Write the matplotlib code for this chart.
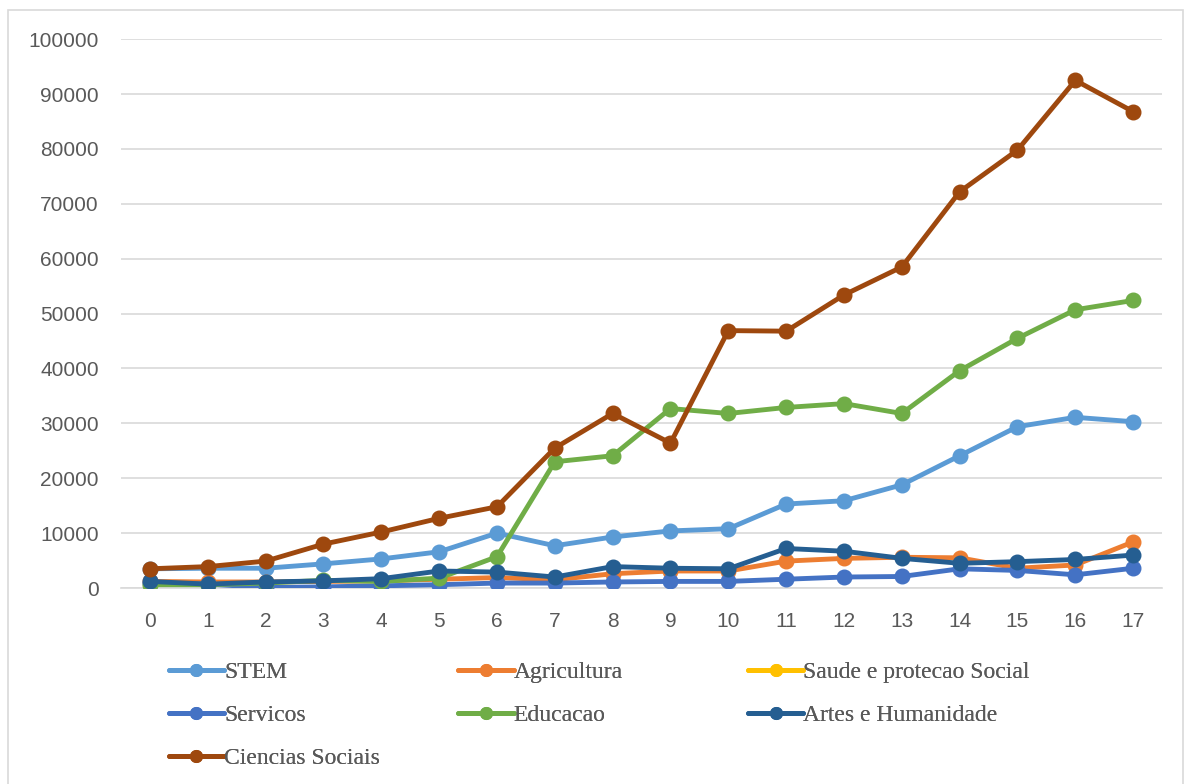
import numpy as np
import matplotlib.pyplot as plt
from matplotlib.patches import Rectangle

years = list(range(18))

stem = [3500, 3600, 3600, 4400, 5300, 6600, 10000, 7700, 9300, 10400,
        10800, 15300, 15900, 18800, 24100, 29400, 31100, 30300]
agricultura = [1200, 1100, 1100, 1200, 1300, 1600, 1900, 1500, 2600, 3100,
               3100, 4900, 5400, 5600, 5500, 3600, 4200, 8400]
saude = [np.nan] * 18
servicos = [900, 700, 100, 200, 400, 600, 900, 900, 1100, 1200,
            1200, 1600, 2000, 2100, 3500, 3200, 2400, 3600]
educacao = [600, 600, 900, 1400, 1200, 1800, 5700, 23000, 24100, 32700,
            31800, 32900, 33600, 31800, 39600, 45500, 50700, 52400]
artes = [1200, 700, 1100, 1300, 1700, 3100, 2900, 2000, 3900, 3600,
         3500, 7200, 6700, 5400, 4500, 4800, 5200, 6000]
ciencias = [3500, 3900, 4900, 8000, 10200, 12700, 14800, 25500, 31800, 26400,
            46900, 46800, 53400, 58500, 72200, 79800, 92500, 86800]

series = [
    ("STEM", stem, "#5B9BD5"),
    ("Agricultura", agricultura, "#ED7D31"),
    ("Saude e protecao Social", saude, "#FFC000"),
    ("Servicos", servicos, "#4472C4"),
    ("Educacao", educacao, "#70AD47"),
    ("Artes e Humanidade", artes, "#255E91"),
    ("Ciencias Sociais", ciencias, "#9E480E"),
]

fig = plt.figure(figsize=(11.87, 7.84), dpi=100)
ax = fig.add_axes([0.102, 0.25, 0.877, 0.70])

handles = {}
for i, (name, vals, color) in enumerate(series):
    line, = ax.plot(years, vals, color=color, linewidth=3.5, marker="o",
                    markersize=10.5, solid_capstyle="round", zorder=3 + i,
                    label=name)
    handles[name] = line

ax.set_xlim(-0.5, 17.5)
ax.set_ylim(0, 100000)
ax.set_xticks(years)
ax.set_yticks(range(0, 100001, 10000))
ax.tick_params(length=0, labelsize=15, colors="#595959",
               labelfontfamily="Liberation Sans")
ax.tick_params(axis="x", pad=17)
ax.tick_params(axis="y", pad=16)
ax.grid(axis="y", color="#D9D9D9", linewidth=1.2)
ax.set_axisbelow(True)
for side in ("top", "left", "right"):
    ax.spines[side].set_visible(False)
ax.spines["bottom"].set_color("#D9D9D9")
ax.spines["bottom"].set_linewidth(1.2)

# one legend per column so the columns sit at fixed x positions
columns = [
    (0.142, ["STEM", "Servicos", "Ciencias Sociais"]),
    (0.386, ["Agricultura", "Educacao"]),
    (0.630, ["Saude e protecao Social", "Artes e Humanidade"]),
]
for x0, names in columns:
    leg = fig.legend([handles[n] for n in names], names,
                     loc="upper left", bbox_to_anchor=(x0, 0.156),
                     frameon=False, handlelength=2.35, handletextpad=0.0,
                     labelspacing=0.9, borderpad=0, borderaxespad=0,
                     markerscale=0.8,
                     prop={"family": "Liberation Serif", "size": 17},
                     labelcolor="#595959")
    fig.add_artist(leg)

fig.patches.append(Rectangle((0.007, -0.01), 0.99, 0.997, transform=fig.transFigure,
                             fill=False, edgecolor="#D9D9D9", linewidth=1.2))

fig.savefig("out.png", dpi=100)
